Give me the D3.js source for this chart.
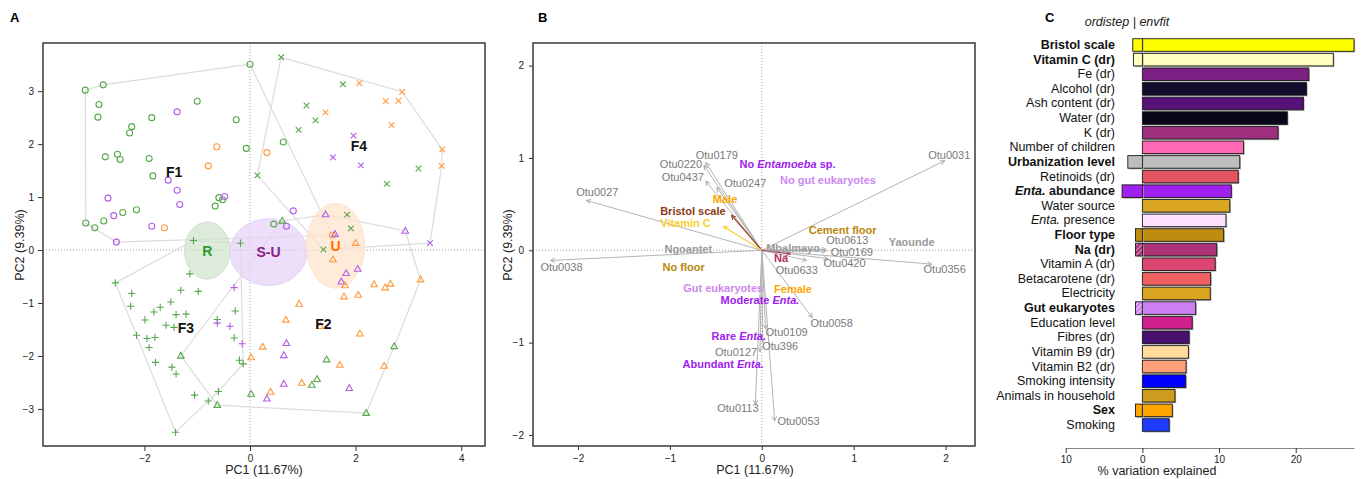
<!DOCTYPE html>
<html>
<head>
<meta charset="utf-8">
<title>Ordination panels</title>
<script src="https://d3js.org/d3.v7.min.js"></script>
<style>
  body{margin:0;background:#fff;}
  text{font-family:"Liberation Sans",Arial,Helvetica,sans-serif;}
  .tick text{font-size:10px;fill:#222;}
  .tick line{stroke:#333;}
</style>
</head>
<body>
<svg width="1361" height="479"></svg>
<script>
// ---------- panel A : samples (x, y, urbanization group) ----------
var f1Points = [[-3.12,3.02,"R"],[-2.78,3.12,"R"],[0.00,3.51,"R"],[-2.86,2.75,"R"],[-2.88,2.51,"R"],[-1.86,2.50,"R"],[-1.38,2.61,"S"],[-1.00,2.81,"R"],[-0.26,2.46,"R"],[-2.24,2.33,"R"],[-2.28,2.21,"R"],[-0.63,1.95,"U"],[-0.07,1.92,"R"],[-2.74,1.76,"R"],[-2.51,1.81,"R"],[-2.46,1.71,"R"],[-1.91,1.73,"R"],[-0.79,1.59,"U"],[-1.84,1.40,"R"],[-1.55,1.32,"S"],[-1.38,1.13,"S"],[-2.69,0.98,"S"],[-1.33,0.86,"S"],[-0.59,0.99,"R"],[-0.52,0.95,"R"],[-0.48,1.01,"S"],[-0.66,0.83,"R"],[-2.15,0.76,"R"],[-2.41,0.71,"R"],[-2.58,0.65,"S"],[-2.77,0.55,"R"],[-3.11,0.51,"R"],[-2.94,0.42,"R"],[-1.86,0.45,"S"],[-1.62,0.42,"U"],[-2.53,0.15,"S"],[0.63,2.04,"R"],[0.32,1.84,"U"],[0.82,0.74,"S"],[0.45,0.49,"R"],[0.69,0.45,"S"],[1.56,0.28,"U"]];
var f2Points = [[1.61,0.30,"S"],[2.00,0.13,"U"],[2.94,0.36,"S"],[1.57,-0.18,"U"],[1.82,-0.44,"S"],[2.04,-0.36,"S"],[1.73,-0.60,"S"],[1.80,-0.67,"U"],[2.35,-0.65,"U"],[2.66,-0.64,"U"],[2.56,-0.71,"U"],[3.23,-0.56,"U"],[2.05,-0.85,"U"],[1.78,-0.88,"U"],[0.93,-1.02,"U"],[0.68,-1.32,"U"],[1.33,-1.44,"U"],[2.08,-1.58,"U"],[0.24,-1.83,"U"],[0.69,-1.76,"S"],[2.73,-1.82,"R"],[0.64,-1.99,"S"],[0.02,-2.03,"U"],[1.45,-2.07,"R"],[1.70,-2.17,"U"],[2.54,-2.19,"U"],[0.64,-2.53,"S"],[0.98,-2.51,"U"],[1.17,-2.55,"R"],[1.27,-2.44,"R"],[1.88,-2.61,"S"],[0.39,-2.68,"U"],[0.32,-2.81,"S"],[0.02,-2.72,"R"],[2.20,-3.08,"R"],[1.43,0.67,"S"],[0.61,0.55,"R"],[-1.31,-2.00,"R"],[-0.62,-2.93,"R"]];
var f3Points = [[-1.07,0.18,"R"],[-0.18,0.13,"R"],[-2.55,-0.62,"R"],[-1.14,-0.45,"R"],[-1.31,-0.76,"R"],[-0.98,-0.78,"R"],[-0.30,-0.71,"S"],[-2.24,-0.82,"R"],[-2.26,-1.06,"R"],[-1.50,-0.98,"R"],[-1.70,-1.08,"R"],[-1.82,-1.17,"R"],[-1.40,-1.22,"R"],[-1.21,-1.21,"R"],[-0.28,-1.15,"R"],[-1.99,-1.32,"R"],[-1.59,-1.42,"R"],[-1.44,-1.46,"R"],[-0.62,-1.31,"R"],[-0.62,-1.38,"S"],[-0.38,-1.44,"S"],[-2.15,-1.61,"R"],[-1.95,-1.67,"R"],[-1.80,-1.65,"R"],[-0.30,-1.66,"R"],[-1.91,-1.84,"R"],[-0.15,-1.77,"S"],[-0.20,-2.08,"R"],[-0.13,-2.15,"R"],[-1.79,-2.12,"R"],[-1.48,-2.21,"R"],[-1.40,-2.34,"R"],[-1.05,-2.74,"R"],[-0.60,-2.67,"R"],[-0.79,-2.85,"R"],[-1.41,-3.44,"R"]];
var f4Points = [[0.59,3.64,"R"],[1.76,3.13,"R"],[2.07,3.15,"U"],[2.88,2.99,"U"],[2.57,2.81,"U"],[2.81,2.82,"U"],[1.07,2.73,"R"],[1.43,2.60,"U"],[1.24,2.45,"R"],[2.68,2.36,"U"],[0.92,2.27,"R"],[1.96,2.16,"S"],[3.64,1.90,"U"],[1.57,1.75,"S"],[2.10,1.60,"S"],[3.63,1.59,"U"],[3.19,1.54,"R"],[2.59,1.25,"R"],[0.14,1.41,"R"],[1.84,0.67,"R"],[1.91,0.41,"R"],[1.39,0.01,"R"],[3.41,0.13,"S"]];
var clusterNames = ["F1","F2","F3","F4"];

// urbanization ellipses (centre, half axes)
var urbanNames = ["R","S-U","U"];
var urbanCx = [-0.81,0.35,1.62];
var urbanCy = [-0.01,-0.04,0.08];
var urbanRx = [0.43,0.73,0.55];
var urbanRy = [0.54,0.63,0.80];

// ---------- panel B : biplot ----------
var otuNames = ["Otu0027","Otu0038","Otu0220","Otu0179","Otu0437","Otu0247","Otu0031","Otu0613","Otu0169","Otu0633","Otu0420","Otu0356","Otu0058","Otu0109","Otu396","Otu0127","Otu0113","Otu0053"];
var otuX = [-1.91,-2.30,-0.63,-0.61,-0.61,-0.49,1.99,0.70,0.70,0.49,0.72,1.85,0.55,0.04,0.01,-0.02,-0.07,0.14];
var otuY = [0.54,-0.11,0.92,0.95,0.75,0.68,0.97,0.01,-0.01,-0.11,-0.09,-0.15,-0.73,-0.85,-1.00,-1.10,-1.67,-1.85];
var otuLabelX = [-1.79,-2.18,-0.88,-0.49,-0.86,-0.18,2.04,0.93,0.98,0.38,0.90,1.99,0.76,0.27,0.20,-0.28,-0.26,0.40];
var otuLabelY = [0.63,-0.18,0.93,1.03,0.79,0.73,1.03,0.11,-0.02,-0.21,-0.14,-0.20,-0.79,-0.88,-1.04,-1.10,-1.71,-1.85];

var envNames = ["Bristol scale","Vitamin C","Na"];
var envX = [-0.33,-0.42,0.31];
var envY = [0.38,0.26,-0.04];
var envLabelX = [-0.75,-0.83,0.21];
var envLabelY = [0.42,0.29,-0.08];
var envColors = ["#8b3a16","#f8d030","#b03060"];

var factorNames = ["No Entamoeba sp.","No gut eukaryotes","Male","Ngoantet","No floor","Cement floor","Mbalmayo","Yaounde","Female","Gut eukaryotes","Moderate Enta.","Rare Enta.","Abundant Enta."];
var factorX = [0.28,0.72,-0.40,-0.80,-0.85,0.88,0.34,1.63,0.34,-0.42,-0.02,-0.25,-0.42];
var factorY = [0.93,0.76,0.55,0.01,-0.18,0.22,0.03,0.09,-0.42,-0.41,-0.54,-0.93,-1.23];
var factorColors = ["#a020f0","#cc88f0","#ffa500","#9a9a9a","#b8860b","#b8860b","#9a9a9a","#9a9a9a","#ffa500","#cc88f0","#a020f0","#a020f0","#a020f0"];

// ---------- panel C : variance explained ----------
var cLabels = ["Bristol scale","Vitamin C (dr)","Fe (dr)","Alcohol (dr)","Ash content (dr)","Water (dr)","K (dr)","Number of children","Urbanization level","Retinoids (dr)","Enta. abundance","Water source","Enta. presence","Floor type","Na (dr)","Vitamin A (dr)","Betacarotene (dr)","Electricity","Gut eukaryotes","Education level","Fibres (dr)","Vitamin B9 (dr)","Vitamin B2 (dr)","Smoking intensity","Animals in household","Sex","Smoking"];
var envfitPct = [27.6,24.9,21.7,21.4,21.0,18.9,17.7,13.2,12.7,12.5,11.6,11.4,10.9,10.6,9.7,9.5,8.9,8.85,6.95,6.5,6.1,6.0,5.7,5.65,4.25,3.9,3.5];
var ordistepPct = [1.25,1.17,0,0,0,0,0,0,1.9,0,2.65,0,0,0.9,0.9,0,0,0,0.9,0,0,0,0,0,0,0.9,0];
var ordistepNotSig = ["Na (dr)","Gut eukaryotes"];
var barColors = ["#ffff00","#ffffc0","#7b1f82","#100c2e","#561278","#0a0618","#9e2f7f","#ff69b4","#bebebe","#e45563","#a020f0","#daa520","#ffe1ff","#c08c10","#ad3278","#da4670","#f16060","#daa520","#cd80f2","#d02090","#4a1070","#ffdb9b","#ffa07a","#0000ff","#cd9b1d","#ffa500","#1e3cff"];

var urbanColor = {R:"#55a84a", S:"#b35ee8", U:"#ff9a3c"};
var urbanFill = ["#cfe3cb","#e6d2f7","#fde2c9"];
var urbanText = ["#2e9a2e","#8b1a8b","#ff7000"];

var svg = d3.select("svg");
var defs = svg.append("defs");

// label writer: italicises Enta./Entamoeba
function richText(sel, label){
  var parts = label.split(/(Entamoeba|Enta\.)/);
  parts.forEach(function(p){
    if(p === "") return;
    var t = sel.append("tspan").text(p);
    if(p === "Entamoeba" || p === "Enta.") t.attr("font-style","italic");
  });
}

// ================= PANEL A =================
var xA = d3.scaleLinear().domain([-3.92,4.45]).range([43,485]);
var yA = d3.scaleLinear().domain([-3.70,3.91]).range([446,43]);
var gA = svg.append("g");

gA.append("line").attr("x1",xA(0)).attr("x2",xA(0)).attr("y1",43).attr("y2",446)
  .attr("stroke","#999").attr("stroke-dasharray","1,2");
gA.append("line").attr("x1",43).attr("x2",485).attr("y1",yA(0)).attr("y2",yA(0))
  .attr("stroke","#999").attr("stroke-dasharray","1,2");

var groups = [f1Points,f2Points,f3Points,f4Points];
groups.forEach(function(pts){
  var hull = d3.polygonHull(pts.map(function(d){return [xA(d[0]),yA(d[1])];}));
  gA.append("path").attr("d","M"+hull.join("L")+"Z")
    .attr("fill","none").attr("stroke","#dcdcdc").attr("stroke-width",1.2);
});

urbanNames.forEach(function(n,i){
  gA.append("ellipse")
    .attr("cx",xA(urbanCx[i])).attr("cy",yA(urbanCy[i]))
    .attr("rx",xA(urbanRx[i])-xA(0)).attr("ry",yA(0)-yA(urbanRy[i]))
    .attr("fill",urbanFill[i]).attr("fill-opacity",0.7)
    .attr("stroke",urbanFill[i]).attr("stroke-width",1);
});

var shapes = [
  "M3,0A3,3 0 1,1 -3,0A3,3 0 1,1 3,0Z",
  "M0,-3.6L3.3,2.2L-3.3,2.2Z",
  "M-3.6,0H3.6M0,-3.6V3.6",
  "M-2.8,-2.8L2.8,2.8M-2.8,2.8L2.8,-2.8"
];
groups.forEach(function(pts,gi){
  gA.selectAll(null).data(pts).enter().append("path")
    .attr("d",shapes[gi])
    .attr("transform",function(d){return "translate("+xA(d[0])+","+yA(d[1])+")";})
    .attr("fill","none").attr("stroke",function(d){return urbanColor[d[2]];})
    .attr("stroke-width",1.1);
});

groups.forEach(function(pts,gi){
  gA.append("text")
    .attr("x",xA(d3.mean(pts,function(d){return d[0];})))
    .attr("y",yA(d3.mean(pts,function(d){return d[1];})))
    .attr("text-anchor","middle").attr("dominant-baseline","central")
    .attr("font-size",14).attr("font-weight","bold").attr("fill","#111")
    .text(clusterNames[gi]);
});
urbanNames.forEach(function(n,i){
  gA.append("text").attr("x",xA(urbanCx[i])).attr("y",yA(urbanCy[i]))
    .attr("text-anchor","middle").attr("dominant-baseline","central")
    .attr("font-size",14).attr("font-weight","bold").attr("fill",urbanText[i])
    .text(n);
});

gA.append("g").attr("transform","translate(0,446)")
  .call(d3.axisBottom(xA).tickValues([-2,0,2,4]).tickSize(5).tickPadding(4))
  .call(function(g){g.select(".domain").remove();});
gA.append("g").attr("transform","translate(43,0)")
  .call(d3.axisLeft(yA).tickValues([-3,-2,-1,0,1,2,3]).tickSize(5).tickPadding(4))
  .call(function(g){g.select(".domain").remove();});
gA.append("rect").attr("x",43).attr("y",43).attr("width",442).attr("height",403)
  .attr("fill","none").attr("stroke","#444").attr("stroke-width",1.6);
gA.append("text").attr("x",264).attr("y",474).attr("text-anchor","middle")
  .attr("font-size",12.5).attr("fill","#222").text("PC1 (11.67%)");
gA.append("text").attr("transform","translate(24,245) rotate(-90)").attr("text-anchor","middle")
  .attr("font-size",12.5).attr("fill","#222").text("PC2 (9.39%)");
gA.append("text").attr("x",10).attr("y",22).attr("font-size",13).attr("font-weight","bold").text("A");

// ================= PANEL B =================
var xB = d3.scaleLinear().domain([-2.49,2.32]).range([533,975]);
var yB = d3.scaleLinear().domain([-2.12,2.245]).range([446,43]);
var gB = svg.append("g");

function arrowMarker(id,color){
  defs.append("marker").attr("id",id).attr("viewBox","-6 -4 7 8")
    .attr("refX",0).attr("refY",0).attr("markerWidth",7).attr("markerHeight",8)
    .attr("markerUnits","userSpaceOnUse").attr("orient","auto")
    .append("path").attr("d","M-4.5,-2.2L0,0L-4.5,2.2")
    .attr("fill","none").attr("stroke",color).attr("stroke-width",0.9);
}
arrowMarker("arr-otu","#aaa");
envColors.forEach(function(c,i){arrowMarker("arr-env"+i,c);});

gB.append("line").attr("x1",xB(0)).attr("x2",xB(0)).attr("y1",43).attr("y2",446)
  .attr("stroke","#999").attr("stroke-dasharray","1,2");
gB.append("line").attr("x1",533).attr("x2",975).attr("y1",yB(0)).attr("y2",yB(0))
  .attr("stroke","#999").attr("stroke-dasharray","1,2");

otuNames.forEach(function(n,i){
  gB.append("line").attr("x1",xB(0)).attr("y1",yB(0))
    .attr("x2",xB(otuX[i])).attr("y2",yB(otuY[i]))
    .attr("stroke","#b4b4b4").attr("stroke-width",1).attr("marker-end","url(#arr-otu)");
});
envNames.forEach(function(n,i){
  gB.append("line").attr("x1",xB(0)).attr("y1",yB(0))
    .attr("x2",xB(envX[i])).attr("y2",yB(envY[i]))
    .attr("stroke",envColors[i]).attr("stroke-width",1.1).attr("marker-end","url(#arr-env"+i+")");
});
otuNames.forEach(function(n,i){
  gB.append("text").attr("x",xB(otuLabelX[i])).attr("y",yB(otuLabelY[i]))
    .attr("text-anchor","middle").attr("dominant-baseline","central")
    .attr("font-size",11).attr("fill","#7a7a7a").text(n);
});
envNames.forEach(function(n,i){
  gB.append("text").attr("x",xB(envLabelX[i])).attr("y",yB(envLabelY[i]))
    .attr("text-anchor","middle").attr("dominant-baseline","central")
    .attr("font-size",11).attr("font-weight","bold").attr("fill",envColors[i]).text(n);
});
factorNames.forEach(function(n,i){
  var t = gB.append("text").attr("x",xB(factorX[i])).attr("y",yB(factorY[i]))
    .attr("text-anchor","middle").attr("dominant-baseline","central")
    .attr("font-size",11).attr("font-weight","bold").attr("fill",factorColors[i]);
  richText(t,n);
});

gB.append("g").attr("transform","translate(0,446)")
  .call(d3.axisBottom(xB).tickValues([-2,-1,0,1,2]).tickSize(4).tickPadding(5).tickFormat(d3.format("d")))
  .call(function(g){g.select(".domain").remove();});
gB.append("g").attr("transform","translate(533,0)")
  .call(d3.axisLeft(yB).tickValues([-2,-1,0,1,2]).tickSize(4).tickPadding(5).tickFormat(d3.format("d")))
  .call(function(g){g.select(".domain").remove();});
gB.append("rect").attr("x",533).attr("y",43).attr("width",442).attr("height",403)
  .attr("fill","none").attr("stroke","#444").attr("stroke-width",1.6);
gB.append("text").attr("x",755).attr("y",474).attr("text-anchor","middle")
  .attr("font-size",12.5).attr("fill","#222").text("PC1 (11.67%)");
gB.append("text").attr("transform","translate(512,245) rotate(-90)").attr("text-anchor","middle")
  .attr("font-size",12.5).attr("fill","#222").text("PC2 (9.39%)");
gB.append("text").attr("x",538).attr("y",22).attr("font-size",13).attr("font-weight","bold").text("B");

// ================= PANEL C =================
var xC = d3.scaleLinear().domain([-10,27.6]).range([1065.7,1354]);
var yC = d3.scaleBand().domain(cLabels).range([37.7,432.3]).paddingInner(0.14).paddingOuter(0.07);
var gC = svg.append("g");

function hatch(id,color){
  var p = defs.append("pattern").attr("id",id).attr("patternUnits","userSpaceOnUse")
    .attr("width",3.5).attr("height",3.5).attr("patternTransform","rotate(45)");
  p.append("rect").attr("width",3.5).attr("height",3.5).attr("fill",color);
  p.append("line").attr("x1",0).attr("y1",0).attr("x2",0).attr("y2",3.5)
    .attr("stroke","#fff").attr("stroke-width",1.1);
}

cLabels.forEach(function(lab,i){
  var y = yC(lab), h = yC.bandwidth();
  // envfit bar (right)
  gC.append("rect").attr("x",xC(0)+1.2).attr("y",y+1.2)
    .attr("width",xC(envfitPct[i])-xC(0)).attr("height",h).attr("fill","#b0b0b0");
  gC.append("rect").attr("x",xC(0)).attr("y",y)
    .attr("width",xC(envfitPct[i])-xC(0)).attr("height",h)
    .attr("fill",barColors[i]).attr("stroke","#1a1a1a").attr("stroke-width",0.9);
  // ordistep bar (left)
  if(ordistepPct[i] > 0){
    var fill = barColors[i];
    if(ordistepNotSig.indexOf(lab) >= 0){ hatch("hatch"+i,barColors[i]); fill = "url(#hatch"+i+")"; }
    gC.append("rect").attr("x",xC(-ordistepPct[i])+1.2).attr("y",y+1.2)
      .attr("width",xC(0)-xC(-ordistepPct[i])).attr("height",h).attr("fill","#b0b0b0");
    gC.append("rect").attr("x",xC(-ordistepPct[i])).attr("y",y)
      .attr("width",xC(0)-xC(-ordistepPct[i])).attr("height",h)
      .attr("fill",fill).attr("stroke","#1a1a1a").attr("stroke-width",0.9);
  }
  var t = gC.append("text").attr("x",1115).attr("y",y+h/2)
    .attr("text-anchor","end").attr("dominant-baseline","central")
    .attr("font-size",12.5).attr("fill","#111")
    .attr("font-weight",ordistepPct[i] > 0 ? "bold" : "normal");
  richText(t,lab);
});

gC.append("g").attr("transform","translate(0,448)")
  .call(d3.axisBottom(xC).tickValues([-10,0,10,20]).tickSize(5).tickSizeOuter(0).tickPadding(3)
    .tickFormat(function(d){return Math.abs(d);}))
  .call(function(g){
    g.select(".domain").attr("stroke","#888").attr("stroke-width",1.2);
    g.selectAll(".tick line").attr("stroke","#888");
  });
gC.append("text").attr("x",1157).attr("y",475).attr("text-anchor","middle")
  .attr("font-size",12.5).attr("fill","#222").text("% variation explained");
gC.append("text").attr("x",1127).attr("y",26).attr("text-anchor","middle")
  .attr("font-size",12.5).attr("font-style","italic").attr("fill","#222").text("ordistep | envfit");
gC.append("text").attr("x",1045).attr("y",22).attr("font-size",13).attr("font-weight","bold").text("C");
</script>
</body>
</html>
